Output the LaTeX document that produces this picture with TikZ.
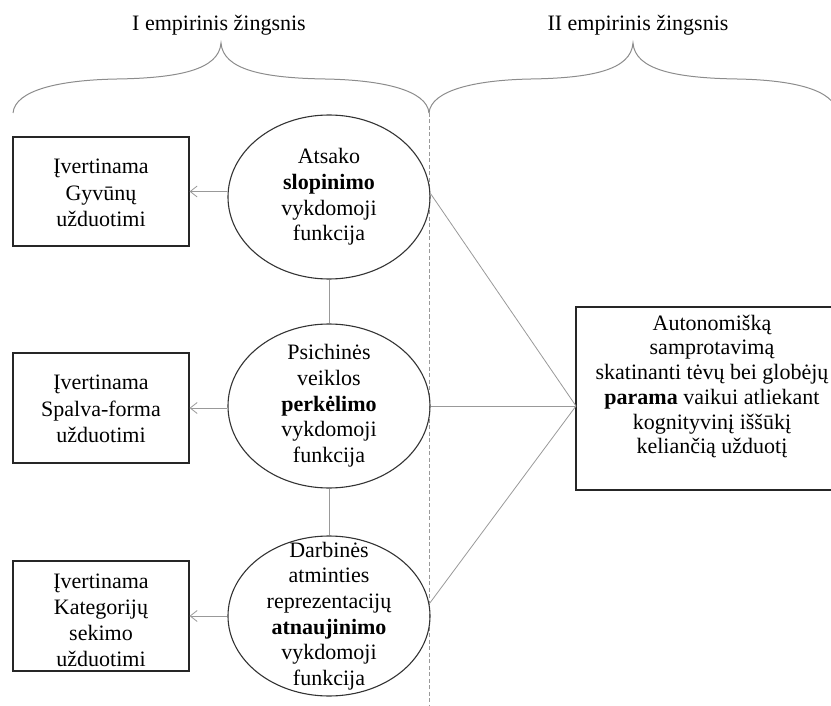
\documentclass[tikz,border=0pt]{standalone}
\usepackage{fontspec}
\setmainfont{Liberation Serif}
\usetikzlibrary{shapes.geometric,arrows.meta}
\definecolor{ellcol}{gray}{0.2}
\definecolor{boxcol}{gray}{0.15}
\definecolor{conncol}{gray}{0.6}
\definecolor{bracecol}{gray}{0.55}
\begin{document}
\begin{tikzpicture}[x=1pt,y=-1pt,
  font=\fontsize{22}{25.7}\selectfont,
  ell/.style={ellipse, draw=ellcol, line width=1.1pt, minimum width=202pt, minimum height=164pt, inner sep=0pt},
  taskbox/.style={draw=boxcol, line width=1.1pt, minimum width=176pt, minimum height=110pt, inner sep=0pt},
  txt/.style={align=center, inner sep=0pt},
  conn/.style={draw=conncol, line width=0.8pt},
  arr/.style={conn, -{Straight Barb[length=7pt,width=11pt]}},
  brace/.style={draw=bracecol, line width=1pt}]
\clip (0,0) rectangle (831,706);
% titles
\node (t1) at (219,25) {I empirinis žingsnis};
\node (t2) at (638,25) {II empirinis žingsnis};
% braces
\draw[brace] (13,113) .. controls (15,90) and (60,80) .. (117,79)
  .. controls (178,78) and (219,70) .. (221,43)
  .. controls (223,70) and (264,78) .. (325,79)
  .. controls (382,80) and (427,90) .. (429,113);
\draw[brace] (429,113) .. controls (431,90) and (476,80) .. (531,79)
  .. controls (592,78) and (631,70) .. (633,43)
  .. controls (635,70) and (676,78) .. (737,79)
  .. controls (794,80) and (835,90) .. (837,113);
% dashed divider
\coordinate (dtop) at (429,113);
\coordinate (dbot) at (429,706);
\draw[conncol, line width=0.8pt, dash pattern=on 4pt off 2.5pt] (dtop) -- (dbot);
% ellipses
\node[ell] (e1) at (329,197) {};
\node[txt] (e1t) at (329,197) {Atsako\\\textbf{slopinimo}\\vykdomoji\\funkcija};
\node[ell] (e2) at (329,406) {};
\node[txt] (e2t) at (329,406) {Psichinės\\veiklos\\\textbf{perkėlimo}\\vykdomoji\\funkcija};
\node[ell, minimum height=160pt] (e3) at (329,616) {};
\node[txt] (e3t) at (329,616) {Darbinės\\atminties\\reprezentacijų\\\textbf{atnaujinimo}\\vykdomoji\\funkcija};
% task boxes
\node[taskbox, minimum height=109pt] (b1) at (101,191.5) {};
\node[txt, font=\fontsize{22}{26.5}\selectfont] (b1t) at (101,193) {Įvertinama\\Gyvūnų\\užduotimi};
\node[taskbox] (b2) at (101,408) {};
\node[txt, font=\fontsize{22}{26.5}\selectfont] (b2t) at (101,409) {Įvertinama\\Spalva-forma\\užduotimi};
\node[taskbox] (b3) at (101,616) {};
\node[txt, font=\fontsize{22}{26}\selectfont] (b3t) at (101,620) {Įvertinama\\Kategorijų\\sekimo\\užduotimi};
% right box
\node[draw=boxcol, line width=1.1pt, minimum width=272pt, minimum height=183pt, inner sep=0pt] (rb) at (712,398.5) {};
\node[txt, font=\fontsize{22}{24.7}\selectfont] (rbt) at (712,386.5) {Autonomišką\\samprotavimą\\skatinanti tėvų bei globėjų\\\textbf{parama} vaikui atliekant\\kognityvinį iššūkį\\keliančią užduotį};
\coordinate (cv) at (576,406);
% connectors
\draw[conn] (e1.south) -- (e2.north);
\draw[conn] (e2.south) -- (e3.north);
\draw[arr] (e1.west |- b1.east) -- (b1.east);
\draw[arr] (e2.west |- b2.east) -- (b2.east);
\draw[arr] (e3.west |- b3.east) -- (b3.east);
\draw[conn] (e1.2) -- (cv);
\draw[conn] (e2.east) -- (cv);
\draw[conn] (e3.7) -- (cv);
\end{tikzpicture}
\end{document}
